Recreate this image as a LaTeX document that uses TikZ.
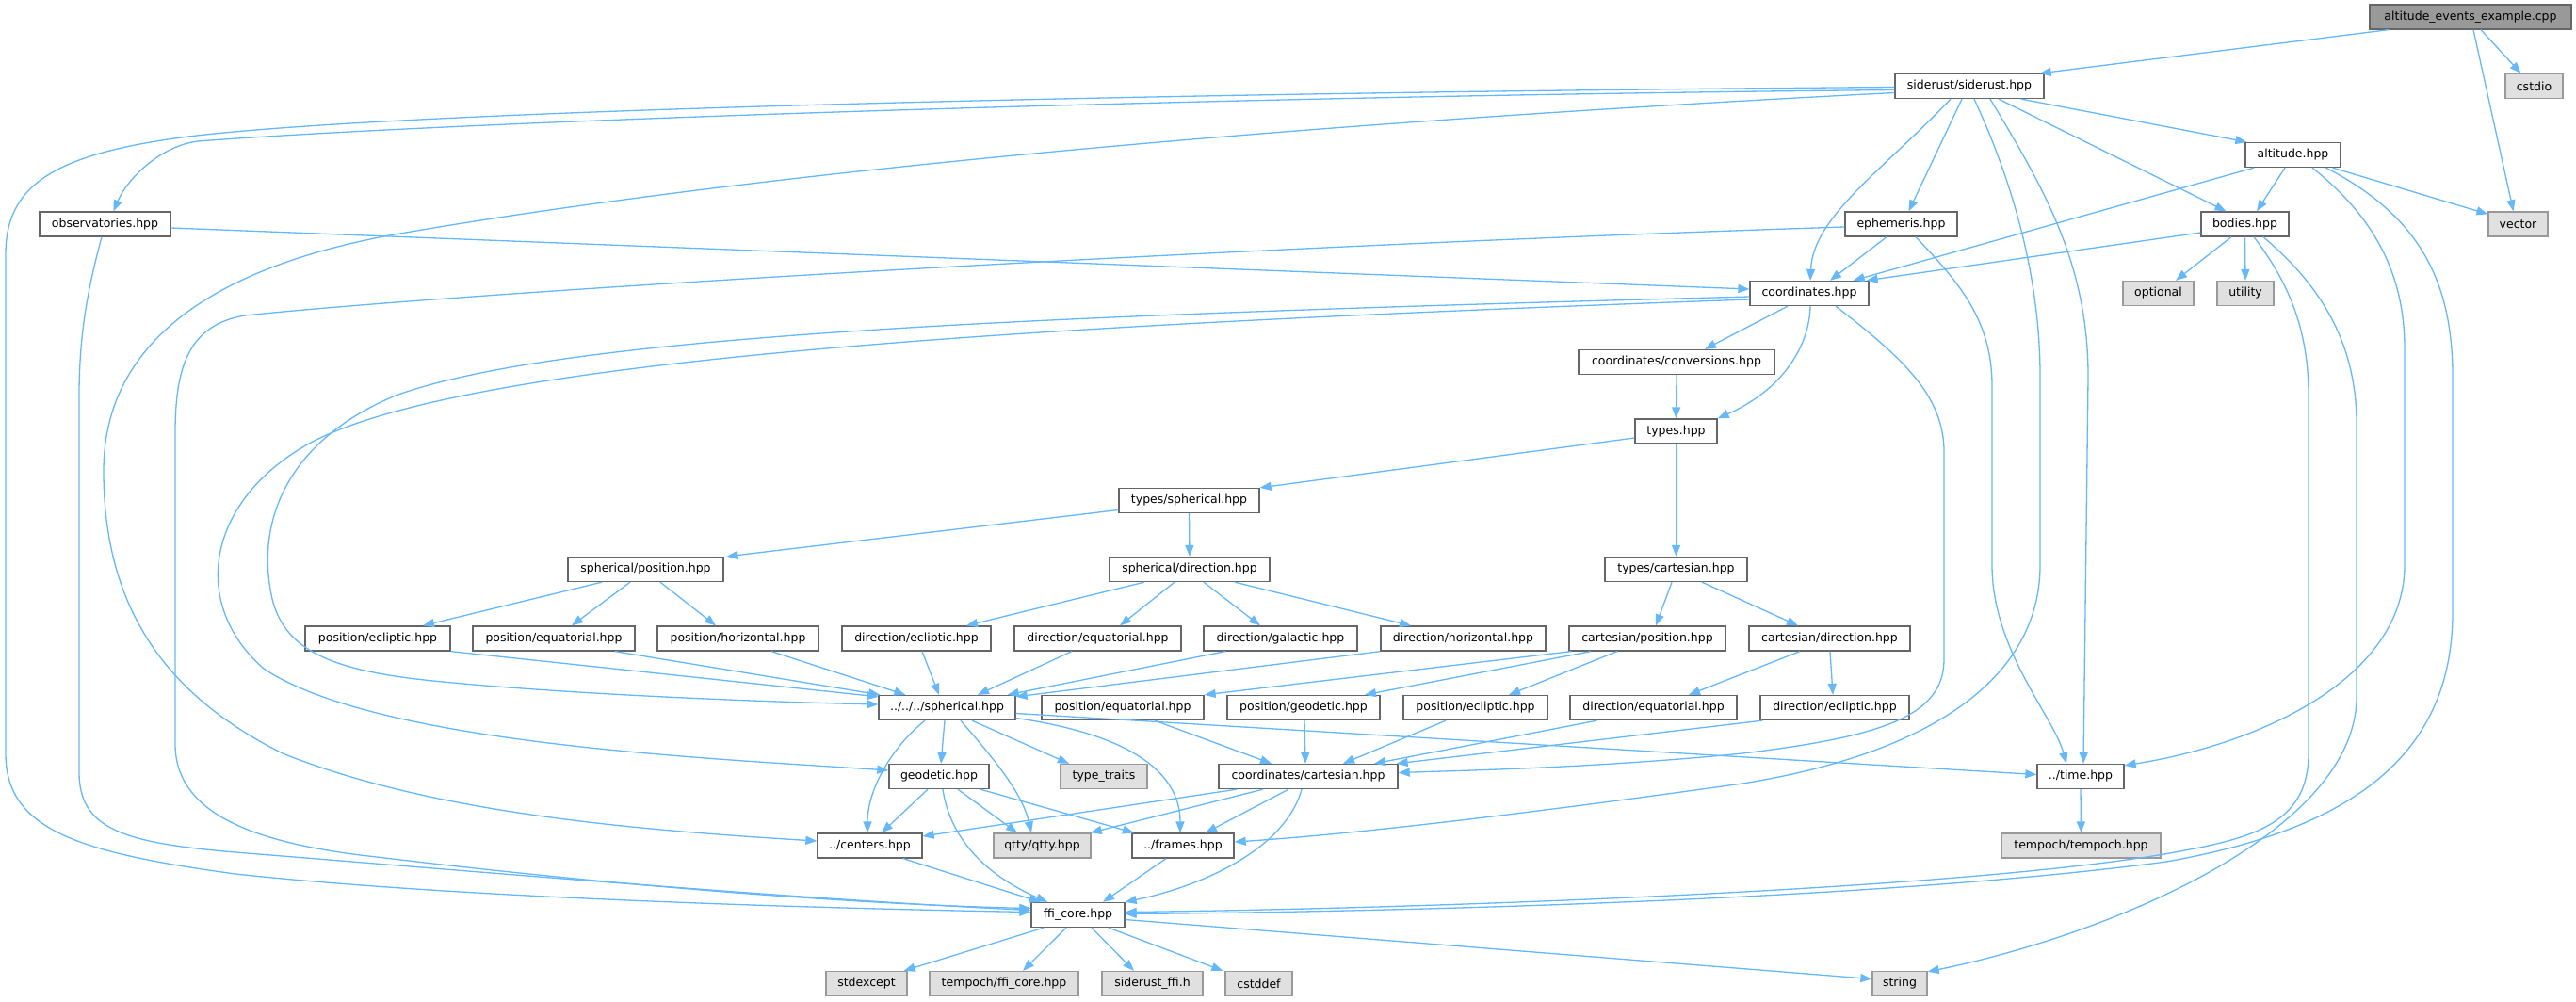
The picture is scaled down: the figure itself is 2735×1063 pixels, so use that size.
\documentclass[tikz,border=0pt]{standalone}
\usepackage{fontspec}
\setmainfont{DejaVu Sans}
\usetikzlibrary{arrows.meta}
\definecolor{edgec}{HTML}{63B8FF}
\definecolor{nodeborder}{HTML}{666666}
\definecolor{sysborder}{HTML}{999999}
\definecolor{sysfill}{HTML}{E0E0E0}
\definecolor{rootfill}{HTML}{999999}
\tikzset{
  base/.style={rectangle, inner sep=0pt, minimum height=26pt, line width=1.3pt,
    font=\fontsize{12.5pt}{14pt}\selectfont, text=black, anchor=center},
  nn/.style={base, draw=nodeborder, fill=white},
  sys/.style={base, draw=sysborder, fill=sysfill},
  rootnode/.style={base, draw=nodeborder, fill=rootfill},
  e/.style={draw=edgec, line width=1.3pt, -{Triangle[length=12pt,width=9pt]}},
}
\begin{document}
\begin{tikzpicture}[x=1pt,y=-1pt]
\fill[white] (0,0) rectangle (2735,1063);
\useasboundingbox (0,0) rectangle (2735,1063);

% nodes
\node[rootnode, minimum width=214pt] (cpp) at (2623,18) {altitude\_events\_example.cpp};
\node[nn, minimum width=158pt] (sid) at (2091,91.5) {siderust/siderust.hpp};
\node[sys, minimum width=61pt] (cstdio) at (2690.5,91.5) {cstdio};
\node[nn, minimum width=101pt] (alt) at (2434.5,164.5) {altitude.hpp};
\node[nn, minimum width=139pt] (obs) at (111.5,238) {observatories.hpp};
\node[nn, minimum width=119pt] (eph) at (2018.5,238) {ephemeris.hpp};
\node[nn, minimum width=93pt] (bod) at (2383.5,238) {bodies.hpp};
\node[sys, minimum width=63pt] (vector) at (2673.5,238) {vector};
\node[nn, minimum width=126pt] (coo) at (1921,311.5) {coordinates.hpp};
\node[sys, minimum width=75pt] (opt) at (2291.5,311.5) {optional};
\node[sys, minimum width=60pt] (uti) at (2384,311.5) {utility};
\node[nn, minimum width=208pt] (conv) at (1780,384.5) {coordinates/conversions.hpp};
\node[nn, minimum width=87pt] (types) at (1779.5,458) {types.hpp};
\node[nn, minimum width=149pt] (tsph) at (1262.5,531.5) {types/spherical.hpp};
\node[nn, minimum width=165pt] (sphpos) at (685.5,604.5) {spherical/position.hpp};
\node[nn, minimum width=170pt] (sphdir) at (1263,604.5) {spherical/direction.hpp};
\node[nn, minimum width=151pt] (tcart) at (1779.5,604.5) {types/cartesian.hpp};
\node[nn, minimum width=154pt] (posecl) at (401,678) {position/ecliptic.hpp};
\node[nn, minimum width=172pt] (poseq) at (588,678) {position/equatorial.hpp};
\node[nn, minimum width=171pt] (poshor) at (783.5,678) {position/horizontal.hpp};
\node[nn, minimum width=158pt] (direcl) at (973,678) {direction/ecliptic.hpp};
\node[nn, minimum width=177pt] (direq) at (1165.5,678) {direction/equatorial.hpp};
\node[nn, minimum width=163pt] (dirgal) at (1359.5,678) {direction/galactic.hpp};
\node[nn, minimum width=175pt] (dirhor) at (1553.5,678) {direction/horizontal.hpp};
\node[nn, minimum width=166pt] (cartpos) at (1749,678) {cartesian/position.hpp};
\node[nn, minimum width=171pt] (cartdir) at (1942.5,678) {cartesian/direction.hpp};
\node[nn, minimum width=145pt] (sph) at (1005.5,751.5) {../../../spherical.hpp};
\node[nn, minimum width=172pt] (poseq2) at (1192,751.5) {position/equatorial.hpp};
\node[nn, minimum width=162pt] (posgeo) at (1384,751.5) {position/geodetic.hpp};
\node[nn, minimum width=153pt] (posecl2) at (1566.5,751.5) {position/ecliptic.hpp};
\node[nn, minimum width=177pt] (direq2) at (1755.5,751.5) {direction/equatorial.hpp};
\node[nn, minimum width=158pt] (direcl2) at (1948,751.5) {direction/ecliptic.hpp};
\node[nn, minimum width=106pt] (geo) at (997,824.5) {geodetic.hpp};
\node[sys, minimum width=92pt] (tt) at (1172,824.5) {type\_traits};
\node[nn, minimum width=190pt] (cart) at (1389,824.5) {coordinates/cartesian.hpp};
\node[nn, minimum width=92pt] (time) at (2209,824.5) {../time.hpp};
\node[nn, minimum width=111pt] (cen) at (923.5,898) {../centers.hpp};
\node[sys, minimum width=103pt] (qtty) at (1106.5,898) {qtty/qtty.hpp};
\node[nn, minimum width=108pt] (fra) at (1256,898) {../frames.hpp};
\node[sys, minimum width=169pt] (temp) at (2209.5,898) {tempoch/tempoch.hpp};
\node[nn, minimum width=99pt] (ffi) at (1144.5,971.5) {ffi\_core.hpp};
\node[sys, minimum width=86pt] (stdx) at (920,1044.5) {stdexcept};
\node[sys, minimum width=158pt] (tffi) at (1066,1044.5) {tempoch/ffi\_core.hpp};
\node[sys, minimum width=107pt] (sffi) at (1223.5,1044.5) {siderust\_ffi.h};
\node[sys, minimum width=71pt] (cstddef) at (1336.5,1044.5) {cstddef};
\node[sys, minimum width=58pt] (str) at (2017,1044.5) {string};

% cpp
\draw[e] ([xshift=-87pt]cpp.south) -- ([xshift=-5pt]sid.north east);
\draw[e] ([xshift=11pt]cpp.south) -- ([xshift=-14pt]cstdio.north);
\draw[e] ([xshift=3pt]cpp.south) -- ([xshift=-5pt]vector.north);

% siderust
\draw[e] ([xshift=55pt]sid.south) -- ([xshift=2pt]alt.north west);
\draw[e] ([xshift=31pt]sid.south) -- ([xshift=-20pt]bod.north);
\draw[e] ([xshift=-8pt]sid.south) -- ([xshift=8pt]eph.north);
\draw[e] ([xshift=-20pt]sid.south) .. controls (2000,180) and (1925,230) .. ([xshift=1pt]coo.north);
\draw[e] ([xshift=22pt]sid.south) .. controls (2170,200) and (2217,280) .. (2217,400) -- ([xshift=3pt]time.north);
\draw[e] ([xshift=5pt]sid.south) .. controls (2140,200) and (2166,300) .. (2166,400) -- (2166,600)
  .. controls (2166,720) and (2050,800) .. (1850,832) .. controls (1650,860) and (1450,885) .. ([yshift=4pt]fra.east);
\draw[e] ([yshift=-1pt]sid.west) .. controls (1300,98) and (450,115) .. (200,145)
  .. controls (60,163) and (6,195) .. (6,270) -- (6,800)
  .. controls (6,880) and (80,905) .. (250,928) .. controls (500,955) and (900,965) .. ([yshift=3pt]ffi.west);
\draw[e] ([yshift=-4pt]sid.west) .. controls (1300,102) and (500,128) .. (210,150)
  .. controls (170,155) and (135,190) .. ([xshift=9pt]obs.north);
\draw[e] ([yshift=-7pt]sid.west) .. controls (1200,140) and (700,200) .. (413,250)
  .. controls (200,290) and (110,380) .. (110,500)
  .. controls (110,650) and (180,740) .. (300,800)
  .. controls (450,860) and (650,880) .. ([yshift=5pt]cen.west);

% observatories
\draw[e] ([yshift=-4pt]obs.east) -- ([yshift=4.5pt]coo.west);
\draw[e] ([xshift=-3.5pt]obs.south) .. controls (95,300) and (84,350) .. (84,420) -- (84,820)
  .. controls (84,880) and (130,895) .. (250,905) .. controls (500,925) and (850,955) .. ([yshift=5pt]ffi.west);

% ephemeris
\draw[e] ([yshift=-3pt]eph.west) .. controls (1300,262) and (500,310) .. (260,335)
  .. controls (200,345) and (186,390) .. (186,460) -- (186,790)
  .. controls (186,860) and (260,895) .. (400,910) .. controls (650,940) and (900,960) .. ([yshift=7pt]ffi.west);
\draw[e] ([xshift=-15.5pt]eph.south) -- ([xshift=22pt]coo.north);
\draw[e] ([xshift=15.5pt]eph.south) .. controls (2080,300) and (2115,340) .. (2115,410) -- (2115,600)
  .. controls (2115,690) and (2180,760) .. ([xshift=-15pt]time.north);

% altitude / bodies
\draw[e] ([yshift=-9pt]bod.west) -- ([xshift=-3pt]coo.north east);
\draw[e] ([xshift=-41.5pt]alt.south) -- ([xshift=-17pt]coo.north east);
\draw[e] ([xshift=-8.5pt]alt.south) -- ([xshift=12.5pt]bod.north);
\draw[e] ([xshift=42pt]alt.south) -- ([yshift=-3pt]vector.north west);
\draw[e] ([xshift=20.5pt]alt.south) .. controls (2520,230) and (2553,290) .. (2553,370) -- (2553,600)
  .. controls (2553,720) and (2400,790) .. ([yshift=-2pt]time.north east);
\draw[e] ([xshift=35pt]alt.south) .. controls (2570,230) and (2604,300) .. (2604,400) -- (2604,650)
  .. controls (2604,800) and (2500,880) .. (2300,915) .. controls (2000,955) and (1500,968) .. ([yshift=1pt]ffi.east);
\draw[e] ([xshift=9.5pt]bod.south) .. controls (2430,300) and (2451,350) .. (2451,420) -- (2451,800)
  .. controls (2451,870) and (2400,888) .. (2320,903) .. controls (2100,945) and (1500,965) .. ([yshift=3pt]ffi.east);
\draw[e] ([xshift=19.5pt]bod.south) .. controls (2460,300) and (2502,360) .. (2502,450) -- (2502,740)
  .. controls (2502,880) and (2250,990) .. ([yshift=-1pt]str.north east);
\draw[e] ([xshift=-14.5pt]bod.south) -- ([xshift=18.5pt]opt.north);
\draw[e] (bod.south) -- (uti.north);

% coordinates
\draw[e] ([xshift=-23pt]coo.south) -- ([xshift=30pt]conv.north);
\draw[e] ([xshift=1pt]coo.south) .. controls (1921,370) and (1890,415) .. (types.north east);
\draw[e] ([xshift=28pt]coo.south) .. controls (2020,380) and (2064,420) .. (2064,480) -- (2064,700)
  .. controls (2064,760) and (2000,782) .. (1850,800) .. controls (1700,815) and (1560,818) .. ([yshift=4pt]cart.east);
\draw[e] ([yshift=-3.5pt]coo.west) .. controls (1100,335) and (600,355) .. (420,420)
  .. controls (300,470) and (270,560) .. (290,640)
  .. controls (305,690) and (350,712) .. (460,723)
  .. controls (600,737) and (800,745) .. ([yshift=3.5pt]sph.west);
\draw[e] ([yshift=-6.5pt]coo.west) .. controls (1100,345) and (500,380) .. (330,470)
  .. controls (220,530) and (200,640) .. (280,710)
  .. controls (400,790) and (750,805) .. ([yshift=6.5pt]geo.west);

% types
\draw[e] (conv.south) -- (types.north);
\draw[e] ([yshift=-7pt]types.west) -- (tsph.north east);
\draw[e] (types.south) -- (tcart.north);
\draw[e] ([yshift=-10pt]tsph.west) -- ([xshift=3pt]sphpos.north east);
\draw[e] (tsph.south) -- (sphdir.north);
\draw[e] ([xshift=-46.5pt]sphpos.south) -- ([xshift=48pt]posecl.north);
\draw[e] ([xshift=-16.5pt]sphpos.south) -- ([xshift=19pt]poseq.north);
\draw[e] ([xshift=15.5pt]sphpos.south) -- ([xshift=-23.5pt]poshor.north);
\draw[e] ([xshift=-48pt]sphdir.south) -- ([xshift=53pt]direcl.north);
\draw[e] ([xshift=-16pt]sphdir.south) -- ([xshift=23.5pt]direq.north);
\draw[e] ([xshift=15pt]sphdir.south) -- ([xshift=-21.5pt]dirgal.north);
\draw[e] ([xshift=48pt]sphdir.south) -- ([xshift=-55.5pt]dirhor.north);
\draw[e] ([xshift=-4.5pt]tcart.south) -- ([xshift=9pt]cartpos.north);
\draw[e] ([xshift=27.5pt]tcart.south) -- ([xshift=-33.5pt]cartdir.north);

% into spherical
\draw[e] (posecl.south east) -- ([yshift=-2pt]sph.north west);
\draw[e] ([xshift=65pt]poseq.south) -- ([xshift=2pt]sph.north west);
\draw[e] ([xshift=35.5pt]poshor.south) -- ([xshift=29pt]sph.north west);
\draw[e] ([xshift=6pt]direcl.south) -- ([xshift=-8.5pt]sph.north);
\draw[e] ([xshift=-27.5pt]direq.south) -- ([xshift=32.5pt]sph.north);
\draw[e] ([xshift=-58.5pt]dirgal.south) -- ([xshift=-9pt]sph.north east);
\draw[e] (dirhor.south west) -- ([yshift=-2pt]sph.north east);

% cartesian level
\draw[e] ([xshift=3pt]cartpos.south west) -- (poseq2.north east);
\draw[e] ([xshift=-60pt]cartpos.south) -- ([xshift=65pt]posgeo.north);
\draw[e] ([xshift=-32pt]cartpos.south) -- ([xshift=35.5pt]posecl2.north);
\draw[e] ([xshift=-31.5pt]cartdir.south) -- ([xshift=37.5pt]direq2.north);
\draw[e] ([xshift=0.5pt]cartdir.south) -- ([xshift=-2pt]direcl2.north);
\draw[e] ([xshift=34pt]poseq2.south) -- ([xshift=-39pt]cart.north);
\draw[e] ([xshift=1pt]posgeo.south) -- ([xshift=-3pt]cart.north);
\draw[e] ([xshift=-31.5pt]posecl2.south) -- ([xshift=37pt]cart.north);
\draw[e] ([xshift=-60pt]direq2.south) -- ([xshift=70pt]cart.north);
\draw[e] ([xshift=3pt]direcl2.south west) -- ([xshift=-2pt]cart.north east);

% spherical outgoing
\draw[e] ([xshift=-23.5pt]sph.south) .. controls (945,795) and (921,840) .. ([xshift=-2.5pt]cen.north);
\draw[e] ([xshift=-2.5pt]sph.south) -- ([xshift=2pt]geo.north);
\draw[e] ([xshift=14.5pt]sph.south) .. controls (1050,800) and (1085,840) .. ([xshift=-11.5pt]qtty.north);
\draw[e] ([xshift=26.5pt]sph.south) -- ([xshift=-37pt]tt.north);
\draw[e] ([yshift=-11pt]sph.east) .. controls (1200,780) and (1253,820) .. ([xshift=-3pt]fra.north);
\draw[e] ([yshift=-6pt]sph.east) -- ([yshift=2pt]time.west);

% geodetic
\draw[e] ([xshift=-12pt]geo.south) -- ([xshift=12.5pt]cen.north);
\draw[e] ([xshift=4pt]geo.south) .. controls (1010,900) and (1060,935) .. ([xshift=-32.5pt]ffi.north);
\draw[e] ([xshift=20pt]geo.south) -- ([xshift=-26.5pt]qtty.north);
\draw[e] ([xshift=44pt]geo.south) -- ([xshift=-52pt]fra.north);

% coordinates/cartesian
\draw[e] ([xshift=-76pt]cart.south) -- ([yshift=10pt]cen.east);
\draw[e] ([xshift=-48pt]cart.south) -- ([xshift=-1pt]qtty.north east);
\draw[e] ([xshift=-21pt]cart.south) -- ([xshift=24pt]fra.north);
\draw[e] ([xshift=-7pt]cart.south) .. controls (1365,900) and (1280,940) .. (ffi.north east);

% centers, frames
\draw[e] ([xshift=35.5pt]cen.south) -- ([xshift=-40pt]ffi.north);
\draw[e] ([xshift=-18pt]fra.south) -- ([xshift=26.5pt]ffi.north);

% ffi_core
\draw[e] ([xshift=-36.5pt]ffi.south) -- ([xshift=-4pt]stdx.north east);
\draw[e] ([xshift=-12.5pt]ffi.south) -- ([xshift=20pt]tffi.north);
\draw[e] ([xshift=14.5pt]ffi.south) -- ([xshift=-19.5pt]sffi.north);
\draw[e] ([xshift=32.5pt]ffi.south) -- ([xshift=-2pt]cstddef.north west);
\draw[e] ([yshift=-5pt]ffi.east) -- ([yshift=5pt]str.west);

% time
\draw[e] (time.south) -- (temp.north);
\end{tikzpicture}
\end{document}
